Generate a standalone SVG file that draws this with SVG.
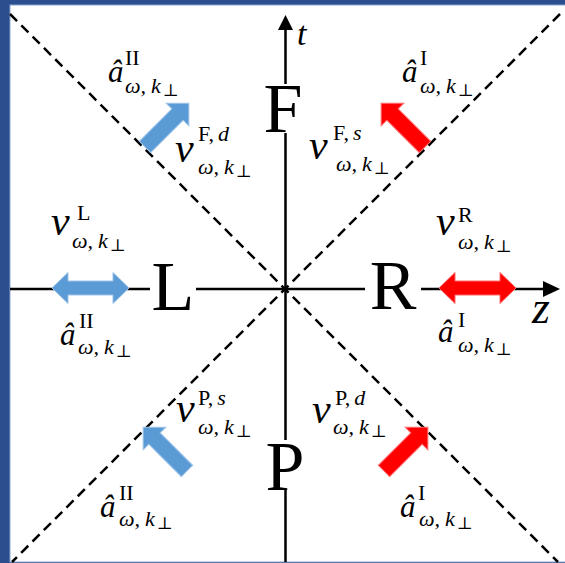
<svg xmlns="http://www.w3.org/2000/svg" xmlns:xlink="http://www.w3.org/1999/xlink" width="565" height="563" viewBox="0 0 565 563">
<style>
.ax{stroke:#000;stroke-width:2.5;fill:none}
.dash{stroke:#000;stroke-width:2.5;stroke-dasharray:10 6;fill:none}
.big{font-family:"Liberation Serif","DejaVu Serif",serif;font-size:70px;text-anchor:middle;fill:#000}
.m{font-family:"Liberation Serif","DejaVu Serif",serif;font-style:italic;fill:#000}
.a{font-size:31px}
.v{font-size:42px}
.sup{font-size:22px;font-style:normal}
.sub{font-size:22px}
.it{font-style:italic}
.perp{font-size:17px;font-style:normal}
.blue{fill:#5B9BD5;stroke:#9fc3e8;stroke-width:1}
.red{fill:#FF0000;stroke:#ff6b6b;stroke-width:1}
</style>
<defs>
<path id="diag" d="M0,-8 L46,-8 L46,-16 L62,0 L46,16 L46,8 L0,8 Z"/>
<path id="dbl" d="M0,0 L16,-15.5 L16,-7 L61,-7 L61,-15.5 L77,0 L61,15.5 L61,7 L16,7 L16,15.5 Z"/>
</defs>
<rect x="0" y="0" width="565" height="563" fill="#2B4E8E"/>
<rect x="10" y="5" width="556" height="557" fill="#fff" stroke="#8aa6d0" stroke-width="1"/>

<g id="connectors">
<line class="dash" x1="10" y1="14" x2="558" y2="562"/>
<line class="dash" x1="560" y1="14" x2="12" y2="562"/>
<line class="ax" x1="10" y1="289" x2="545" y2="289"/>
<polygon points="560,289 543,281 543,297" fill="#000"/>
<line class="ax" x1="285.5" y1="562" x2="285.5" y2="27"/>
<polygon points="285.5,15 278,30 293,30" fill="#000"/>
</g>

<g id="axis-t"><text class="m" x="297" y="45" font-size="34">t</text></g>
<g id="axis-z"><text class="m" x="532" y="323" font-size="46">z</text></g>

<g id="region-F"><rect x="260" y="84" width="46" height="49" fill="#fff"/><text class="big" x="283" y="132">F</text></g>
<g id="region-L"><rect x="150" y="268" width="46" height="42" fill="#fff"/><text class="big" x="173" y="310">L</text></g>
<g id="region-R"><rect x="365" y="268" width="56" height="42" fill="#fff"/><text class="big" x="393" y="309">R</text></g>
<g id="region-P"><rect x="261" y="440" width="46" height="50" fill="#fff"/><text class="big" x="285" y="490">P</text></g>

<g id="arrow-F-d"><use xlink:href="#diag" class="blue" transform="translate(145,147) rotate(-45)"/></g>
<g id="arrow-F-s"><use xlink:href="#diag" class="red" transform="translate(425,147) rotate(-135)"/></g>
<g id="arrow-P-s"><use xlink:href="#diag" class="blue" transform="translate(187,471) rotate(-135)"/></g>
<g id="arrow-P-d"><use xlink:href="#diag" class="red" transform="translate(384,471) rotate(-45)"/></g>
<g id="arrow-L"><use xlink:href="#dbl" class="blue" transform="translate(52,288)"/></g>
<g id="arrow-R"><use xlink:href="#dbl" class="red" transform="translate(439,288)"/></g>

<g id="label-aII-top" class="m">
<text class="a" x="108" y="82">â</text>
<text class="sup" x="125" y="65">II</text>
<text class="sub" x="125" y="93">ω,<tspan dx="5">k</tspan><tspan class="perp" dx="2" dy="3">⊥</tspan></text>
</g>
<g id="label-aI-top" class="m">
<text class="a" x="402" y="82">â</text>
<text class="sup" x="420" y="65">I</text>
<text class="sub" x="420" y="93">ω,<tspan dx="5">k</tspan><tspan class="perp" dx="2" dy="3">⊥</tspan></text>
</g>
<g id="label-vFd" class="m">
<text class="v" x="175" y="162">v</text>
<text class="sup" x="198" y="141">F,<tspan class="it" dx="4">d</tspan></text>
<text class="sub" x="198" y="174">ω,<tspan dx="5">k</tspan><tspan class="perp" dx="2" dy="3">⊥</tspan></text>
</g>
<g id="label-vFs" class="m">
<text class="v" x="309" y="159">v</text>
<text class="sup" x="333" y="140">F,<tspan class="it" dx="4">s</tspan></text>
<text class="sub" x="336" y="171">ω,<tspan dx="5">k</tspan><tspan class="perp" dx="2" dy="3">⊥</tspan></text>
</g>
<g id="label-vL" class="m">
<text class="v" x="51" y="235">v</text>
<text class="sup" x="77" y="220">L</text>
<text class="sub" x="72" y="248">ω,<tspan dx="5">k</tspan><tspan class="perp" dx="2" dy="3">⊥</tspan></text>
</g>
<g id="label-aII-L" class="m">
<text class="a" x="60" y="345">â</text>
<text class="sup" x="79" y="328">II</text>
<text class="sub" x="78" y="354">ω,<tspan dx="5">k</tspan><tspan class="perp" dx="2" dy="3">⊥</tspan></text>
</g>
<g id="label-vR" class="m">
<text class="v" x="436" y="235">v</text>
<text class="sup" x="458" y="222">R</text>
<text class="sub" x="458" y="249">ω,<tspan dx="5">k</tspan><tspan class="perp" dx="2" dy="3">⊥</tspan></text>
</g>
<g id="label-aI-R" class="m">
<text class="a" x="438" y="342">â</text>
<text class="sup" x="458" y="327">I</text>
<text class="sub" x="458" y="352">ω,<tspan dx="5">k</tspan><tspan class="perp" dx="2" dy="3">⊥</tspan></text>
</g>
<g id="label-vPs" class="m">
<text class="v" x="176" y="422">v</text>
<text class="sup" x="198" y="405">P,<tspan class="it" dx="4">s</tspan></text>
<text class="sub" x="198" y="434">ω,<tspan dx="5">k</tspan><tspan class="perp" dx="2" dy="3">⊥</tspan></text>
</g>
<g id="label-aII-bottom" class="m">
<text class="a" x="100" y="517">â</text>
<text class="sup" x="119" y="500">II</text>
<text class="sub" x="119" y="526">ω,<tspan dx="5">k</tspan><tspan class="perp" dx="2" dy="3">⊥</tspan></text>
</g>
<g id="label-vPd" class="m">
<text class="v" x="312" y="423">v</text>
<text class="sup" x="335" y="405">P,<tspan class="it" dx="4">d</tspan></text>
<text class="sub" x="333" y="434">ω,<tspan dx="5">k</tspan><tspan class="perp" dx="2" dy="3">⊥</tspan></text>
</g>
<g id="label-aI-bottom" class="m">
<text class="a" x="400" y="517">â</text>
<text class="sup" x="418" y="500">I</text>
<text class="sub" x="419" y="526">ω,<tspan dx="5">k</tspan><tspan class="perp" dx="2" dy="3">⊥</tspan></text>
</g>
</svg>
